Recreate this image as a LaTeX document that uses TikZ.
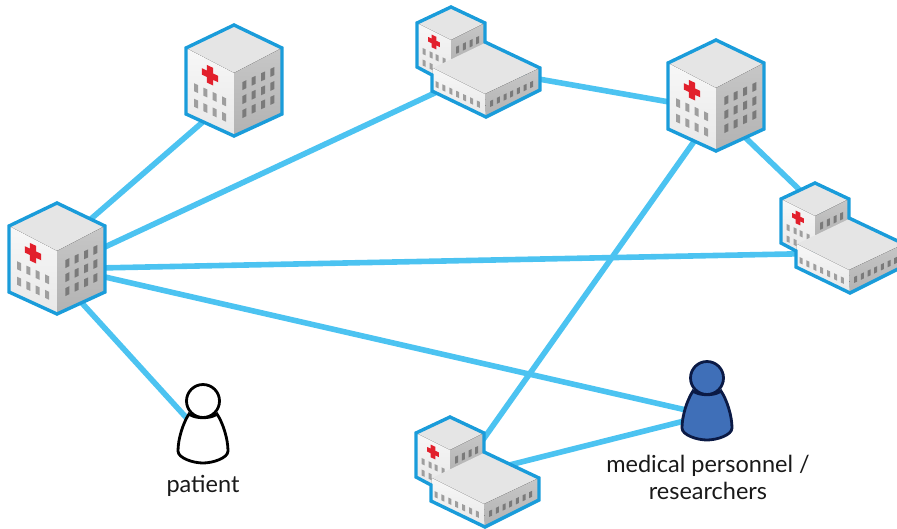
\documentclass[tikz,border=0pt]{standalone}
\usepackage{fontspec}
\setmainfont{Lato}
\usetikzlibrary{positioning}
\pgfdeclarelayer{background}
\pgfdeclarelayer{foreground}
\pgfsetlayers{background,main,foreground}
\definecolor{linkblue}{HTML}{4CC3F1}
\definecolor{edgeblue}{HTML}{1A9CDA}
\definecolor{crossred}{HTML}{E2202C}
\definecolor{staffblue}{HTML}{3F6FB8}
\definecolor{staffline}{HTML}{0B1A45}
\newcommand{\crossmark}{\fill[crossred] (-3.2,-8.8) -- (3.2,-8.8) -- (3.2,-3.2) -- (8.2,-3.2) -- (8.2,3.2) -- (3.2,3.2)
	-- (3.2,8.8) -- (-3.2,8.8) -- (-3.2,3.2) -- (-8.2,3.2) -- (-8.2,-3.2) -- (-3.2,-3.2) -- cycle;}

\begin{document}
\begin{tikzpicture}[
				x=1pt, y=-1pt,
				hubnode/.style={circle, inner sep=0pt, outer sep=0pt, minimum size=60pt},
				endnode/.style={circle, inner sep=0pt, outer sep=0pt, minimum size=0pt},
				linkline/.style={draw=linkblue, line width=5.6pt},
				textnode/.style={font=\fontsize{23.5}{27}\selectfont, text=black!90, align=center},
				topface/.style={fill=black!10},
				leftface/.style={top color=black!3, bottom color=black!9},
				rightface/.style={top color=black!22, bottom color=black!30},
				hullline/.style={draw=edgeblue, line width=3.4pt, miter limit=4},
				leftwin/.style={fill=black!38},
				rightwin/.style={fill=black!52},
				leftskew/.style={cm={1,-.47,0,1,(0,0)}},
				rightskew/.style={cm={1,.47,0,1,(0,0)}},
				tallhospital/.pic={
					\fill[topface] (0,-55) -- (48,-32) -- (0,-7) -- (-48,-32) -- cycle;
					\fill[leftface] (-48,-32) -- (0,-7) -- (0,56) -- (-48,34) -- cycle;
					\fill[rightface] (48,-32) -- (0,-7) -- (0,56) -- (48,34) -- cycle;
					\begin{scope}[leftskew]
						\foreach \u in {-38,-28.7,-19.3,-10}
							\foreach \v in {26,41.5}
								\fill[leftwin] (\u-2,\v-4) rectangle (\u+2,\v+4);
						\begin{scope}[shift={(-24,6.5)}]
							\crossmark
						\end{scope}
					\end{scope}
					\begin{scope}[rightskew]
						\foreach \u in {10.3,19.7,29,38.3}
							\foreach \v in {10,24,38}
								\fill[rightwin] (\u-2,\v-4) rectangle (\u+2,\v+4);
					\end{scope}
					\draw[hullline] (0,-55) -- (48,-32) -- (48,34) -- (0,56) -- (-48,34) -- (-48,-32) -- cycle;
				},
				lowhospital/.pic={
					\fill[topface] (-27,-55) -- (7,-39) -- (-27,-22) -- (-61,-39) -- cycle;
					\fill[leftface] (-61,-39) -- (-27,-22) -- (-27,0) -- (-45,13) -- (-61,5) -- cycle;
					\fill[rightface] (7,-39) -- (-27,-22) -- (-27,0) -- (7,-15) -- cycle;
					\begin{scope}[leftskew]
						\foreach \u in {-54,-47,-41,-34}
							\fill[leftwin] (\u-1.5,12) rectangle (\u+1.5,18);
						\foreach \u in {-54,-47}
							\fill[leftwin] (\u-1.5,23.5) rectangle (\u+1.5,29.5);
						\begin{scope}[shift={(-44,0.7)}, scale=.72]
							\crossmark
						\end{scope}
					\end{scope}
					\begin{scope}[rightskew]
						\foreach \u in {-20.3,-13.7,-7,-.3}
							\fill[rightwin] (\u-1.5,-25.5) rectangle (\u+1.5,-18.5);
					\end{scope}
					\fill[topface] (7,-19) -- (62,6) -- (7,32) -- (-45,6) -- cycle;
					\fill[leftface] (-45,6) -- (7,32) -- (8,55) -- (-46,29) -- cycle;
					\fill[rightface] (7,32) -- (62,6) -- (62,28) -- (8,55) -- cycle;
					\begin{scope}[leftskew]
						\foreach \u in {-41,-34.1,-27.2,-20.3,-13.4,-6.5,.3}
							\fill[leftwin] (\u-1.5,39) rectangle (\u+1.5,45);
					\end{scope}
					\begin{scope}[rightskew]
						\foreach \u in {13.7,20.4,27,33.7,40.4,47,53.7}
							\fill[rightwin] (\u-1.5,44.7) rectangle (\u+1.5,50.7);
					\end{scope}
					\draw[hullline] (-27,-55) -- (7,-39) -- (7,-20) -- (62,6) -- (62,28) -- (8,55) -- (-46,29) -- (-46,13) -- (-61,5) -- (-61,-39) -- cycle;
				},
				person/.pic={
					\filldraw[line width=2.8pt, pic actions] (-14,13) .. controls (-20,22) and (-25,38) .. (-25,50)
						.. controls (-25,57) and (-10,62) .. (0,62) .. controls (10,62) and (25,57) .. (25,50)
						.. controls (25,38) and (20,22) .. (14,13) .. controls (8,18) and (-8,18) .. (-14,13) -- cycle;
					\filldraw[line width=2.8pt, pic actions] (0,0) circle (16.5);
				},
				]
				\useasboundingbox (0,0) rectangle (897,528);

				%Buildings
				\pic at (57,258)  {tallhospital};
				\pic at (234,80)  {tallhospital};
				\pic at (716,95)  {tallhospital};
				\pic at (478,62)  {lowhospital};
				\pic at (842,238) {lowhospital};
				\pic at (477,472) {lowhospital};
				\pic[draw=black, fill=white] at (203,401) {person};
				\pic[draw=staffline, fill=staffblue] at (707,378) {person};

				%Nodes
				\node[hubnode]      (n0) 	at 	(57,258)        {};
				\node[hubnode]      (n1) 	at 	(234,80)        {};
				\node[hubnode]      (n2) 	at 	(716,95)        {};
				\node[hubnode]      (n3) 	at 	(478,62)        {};
				\node[hubnode]      (n4) 	at 	(842,238)       {};
				\node[hubnode]      (n5) 	at 	(477,472)       {};
				\node[endnode]      (p0) 	at 	(203,436)       {};
				\node[endnode]      (p1) 	at 	(708,415)       {};
				\node[textnode]      (t0) 	at 	(203,486)       {patient};
				\node[textnode]      (t1) 	at 	(708,477)       {medical personnel /\\researchers};

				\begin{pgfonlayer}{background}
				%Lines
				\draw[linkline] (n0.55)  -- (n1.243);
				\draw[linkline] (n0.5)   -- (n3.224);
				\draw[linkline] (n0.-20) -- (n4.211);
				\draw[linkline] (n0.-28) -- (p1);
				\draw[linkline] (n0.-71) -- (p0);
				\draw[linkline] (n3.-22) -- (n2.200);
				\draw[linkline] (n2.-64) -- (n4.126);
				\draw[linkline] (n2.252) -- (n5.82);
				\draw[linkline] (n5.12)  -- (p1);
				\end{pgfonlayer}
			\end{tikzpicture}
\end{document}
